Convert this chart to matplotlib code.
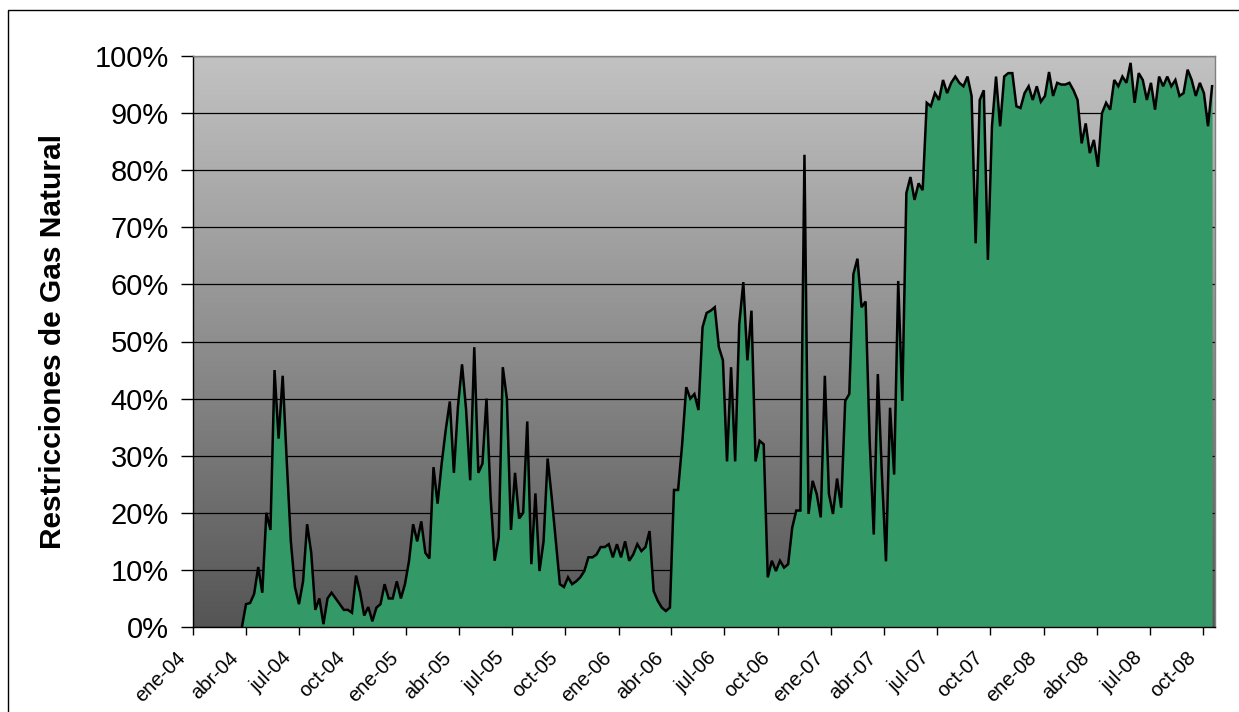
import numpy as np
import pandas as pd
import matplotlib
matplotlib.use("Agg")
import matplotlib.pyplot as plt
from matplotlib.colors import LinearSegmentedColormap
from matplotlib.patches import Rectangle
from matplotlib.transforms import ScaledTranslation

# ---- data (weekly readings, % of natural gas restricted) ----
start_date = "2004-03-25"
vals_2004 = [0, 4.0, 4.2, 5.8, 10.5, 6, 20, 17, 45, 33, 44, 29, 15, 7, 4, 8, 18, 13,
             3, 5, 0.5, 5, 6, 5, 4, 3, 3, 2.5, 9, 6, 2, 3.5, 1, 3.4, 4, 7.5, 5, 5,
             8, 5, 7.5]
vals_2005 = [11.6, 18, 15, 18.5, 13, 12, 28, 21.6, 28.6, 34.5, 39.5, 27, 38.6, 46, 38,
             25.7, 49, 27, 28.6, 40, 22.8, 11.6, 15.7, 45.5, 40, 17, 27, 19, 20, 36,
             11, 23.4, 9.8, 15, 29.5, 22.7, 15, 7.5, 7, 8.7, 7.5, 8, 8.7, 9.8, 12.2,
             12.2, 12.7, 14, 14, 14.5, 12.2, 14.5]
vals_2006 = [12.2, 15, 11.6, 12.7, 14.5, 13.3, 14, 16.8, 6.3, 4.6, 3.4, 2.8, 3.4, 24,
             24, 32, 42, 40, 40.8, 38, 52.5, 55, 55.4, 56, 49, 46.7, 29, 45.5, 29, 53,
             60.4, 46.7, 55.4, 29, 32.6, 32, 8.7, 11.6, 9.8, 11.6, 10.4, 11, 17.4,
             20.4, 20.4, 82.7, 19.8, 25.6, 23.3, 19.2, 44, 23.3]
vals_2007 = [19.8, 26, 20.9, 39.6, 40.8, 61.8, 64.5, 56, 57, 32.6, 16.2, 44.3, 26.7,
             11.5, 38.4, 26.7, 60.6, 39.6, 76, 78.8, 74.8, 77.7, 76.5, 91.8, 91.2,
             93.5, 92.3, 95.8, 93.5, 95.3, 96.4, 95.3, 94.7, 96.4, 93, 67.2, 92.3, 94,
             64.3, 87.7, 96.4, 87.7, 96.4, 97, 97, 91.2, 90.9, 93.5, 94.7, 92.3, 94.7,
             92]
vals_2008 = [93, 97.2, 93, 95.3, 95, 95, 95.3, 94, 92.3, 84.7, 88.2, 83, 85.3, 80.6,
             90, 91.8, 90.6, 95.8, 94.7, 96.4, 95.3, 98.8, 91.8, 97, 95.8, 92.3, 95.3,
             90.6, 96.4, 94.7, 96.4, 94.7, 95.8, 93, 93.5, 97.6, 95.8, 93, 95.3, 93.5,
             87.7, 94.7]

tick_labels = ["ene-04", "abr-04", "jul-04", "oct-04", "ene-05", "abr-05", "jul-05",
               "oct-05", "ene-06", "abr-06", "jul-06", "oct-06", "ene-07", "abr-07",
               "jul-07", "oct-07", "ene-08", "abr-08", "jul-08", "oct-08"]
y_ticks = [0, 10, 20, 30, 40, 50, 60, 70, 80, 90, 100]
y_label = "Restricciones de Gas Natural"

values = np.array(vals_2004 + vals_2005 + vals_2006 + vals_2007 + vals_2008, dtype=float)
dates = pd.date_range(start_date, periods=len(values), freq="7D")
tick_dates = pd.date_range("2004-01-01", "2008-10-01", freq="QS")

# ---- figure ----
plt.rcParams["font.family"] = ["Liberation Sans", "DejaVu Sans"]
W, H = 1239, 712
fig = plt.figure(figsize=(W / 100, H / 100), dpi=100)
fig.patch.set_facecolor("white")

# outer chart-area border
fig.patches.append(Rectangle((8 / W, -0.1), 1.2, 1 - 10 / H + 0.1, transform=fig.transFigure,
                             fill=False, edgecolor="black", lw=1.0, clip_on=False))

left, right, top, bottom = 193, 1215, 56, 627
ax = fig.add_axes([left / W, 1 - bottom / H, (right - left) / W, (bottom - top) / H])

# gradient background
cmap = LinearSegmentedColormap.from_list("bg", [(0, "#555555"), (0.5, "#8e8e8e"), (1, "#c2c2c2")])
grad = np.linspace(0, 1, 256).reshape(-1, 1)
ax.imshow(grad, extent=[0, 1, 0, 1], transform=ax.transAxes, origin="lower",
          aspect="auto", cmap=cmap, zorder=0, interpolation="bicubic")

ax.fill_between(dates, values, 0, color="#339966", lw=0, zorder=2)
ax.plot(dates, values, color="black", lw=1.8, zorder=3, solid_joinstyle="miter")

ax.set_xlim(pd.Timestamp("2004-01-01"), pd.Timestamp("2008-10-21"))
ax.set_ylim(0, 100)

ax.set_yticks(y_ticks)
ax.set_yticklabels([f"{v}%" for v in y_ticks])
ax.set_xticks(tick_dates)
ax.set_xticklabels(tick_labels, rotation=45, ha="right", va="center",
                   rotation_mode="anchor", fontsize=14.5)

ax.set_axisbelow(True)
ax.yaxis.grid(True, color="black", lw=0.9)
ax.xaxis.grid(False)

ax.tick_params(axis="y", direction="out", length=9, width=1, pad=8.5, labelsize=21,
               colors="black")
ax.tick_params(axis="x", direction="out", length=6, width=1, pad=14.0, colors="black")
offset = ScaledTranslation(-10.5 / 100, 0, fig.dpi_scale_trans)
for lab in ax.get_xticklabels():
    lab.set_transform(lab.get_transform() + offset)

for s in ["left", "bottom"]:
    ax.spines[s].set_color("black")
    ax.spines[s].set_linewidth(1.0)
for s in ["top", "right"]:
    ax.spines[s].set_color("#808080")
    ax.spines[s].set_linewidth(1.0)

ax.set_ylabel(y_label, fontsize=21.5, fontweight="bold")
ax.yaxis.set_label_coords((67 - left) / (right - left), 0.5)

fig.savefig("out.png", dpi=100, facecolor="white")
